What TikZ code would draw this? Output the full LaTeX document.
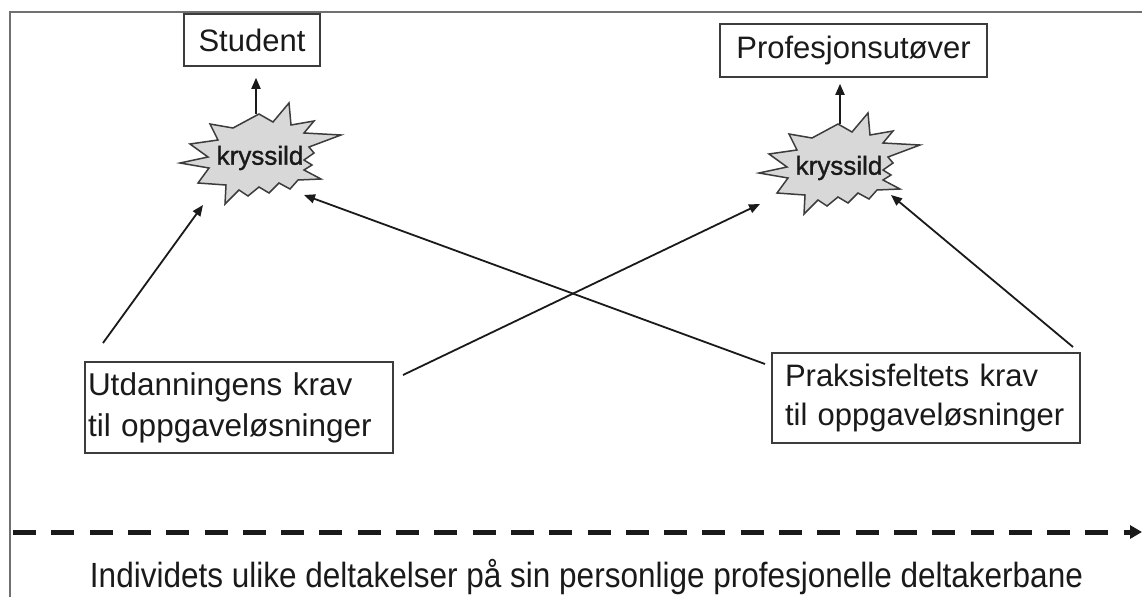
\documentclass[tikz,border=0pt]{standalone}
\usepackage{fontspec}
\usepackage{graphicx}
\setmainfont{Liberation Sans}
\newfontface\kryface[FakeBold=1.2]{Liberation Sans}
\usetikzlibrary{arrows.meta,calc}
\definecolor{boxc}{HTML}{3C3C3C}
\definecolor{arrc}{HTML}{1A1A1A}
\definecolor{framec}{HTML}{707070}
\definecolor{burstfill}{HTML}{D8D8D8}
\definecolor{txtc}{HTML}{1A1A1A}
\newcommand\fsStud{\fontsize{31}{37}\selectfont}
\newcommand\fsKry{\kryface\fontsize{26}{30}\selectfont}
\newcommand\fsBoxL{\fontsize{31.5}{41}\selectfont}
\newcommand\fsBoxR{\fontsize{31}{39}\selectfont}
\newcommand\fsBot{\fontsize{35}{40}\selectfont}
\begin{document}
\begin{tikzpicture}[x=1pt,y=-1pt,
  box/.style={draw=boxc,line width=1.6pt,inner sep=0pt,text=txtc},
  arr/.style={draw=arrc,line width=1.8pt,-{Triangle[length=11pt,width=9pt]}},
  burst/.style={fill=burstfill,draw=boxc,line width=1.5pt,line join=miter,miter limit=10},
  lbl/.style={inner sep=0pt,text=txtc},
  burstpic/.pic={\draw[burst] (-50,-34) -- (-27,-30) -- (-1,-44) -- (13,-36) -- (29,-55) -- (31,-33) -- (54,-37) -- (44,-25) -- (81,-23) -- (49,-11) -- (54,-5) -- (44,2) -- (52,7) -- (44,12) -- (61,21) -- (38,22) -- (30,31) -- (19,25) -- (9,35) -- (-1,29) -- (-12,38) -- (-21,32) -- (-35,46) -- (-34,27) -- (-62,25) -- (-51,10) -- (-80,5) -- (-52,-1) -- (-70,-14) -- (-42,-18) -- cycle;}]
\useasboundingbox (0,0) rectangle (1142,597);
\fill[white] (0,0) rectangle (1142,597);
\draw[framec,line width=2.5pt] (1142,12) -- (10,12) -- (10,597);

% top boxes
\node[box,minimum width=136pt,minimum height=52pt,font=\fsStud] (stud) at (252,40) {Student};
\node[box,minimum width=267pt,minimum height=53pt,font=\fsStud] (prof) at (853.5,50.5) {Profesjonsutøver};

% starbursts
\pic at (260,158) {burstpic};
\pic at (839,168) {burstpic};
\node[lbl,font=\fsKry] (kL) at (260,158) {kryssild};
\node[lbl,font=\fsKry] (kR) at (839,168) {kryssild};

% lower boxes
\node[box,minimum width=308pt,minimum height=91pt,text width=302pt,inner xsep=3pt,align=left,font=\fsBoxL] (ul) at (239,407.5) {Utdanningens krav\\til oppgaveløsninger};
\node[box,minimum width=308pt,minimum height=90pt,text width=282pt,inner xsep=13pt,align=left,font=\fsBoxR] (pk) at (926,398) {Praksisfeltets krav\\til oppgaveløsninger};

% vertical arrows
\coordinate (kLt) at ($(kL)+(-4,-44)$);
\coordinate (kRt) at ($(kR)+(1,-44)$);
\draw[arr,shorten >=11pt] (kLt) -- (kLt |- stud.south);
\draw[arr,shorten >=6pt] (kRt) -- (kRt |- prof.south);

% diagonal arrows
\coordinate (a1s) at (103,343); \coordinate (a1e) at (203,205);
\coordinate (a2s) at (403,375); \coordinate (a2e) at (760,204);
\coordinate (a3s) at (765,364); \coordinate (a3e) at (304,195);
\coordinate (a4s) at (1073,347); \coordinate (a4e) at (891,195);
\draw[arr] (a1s) -- (a1e);
\draw[arr] (a2s) -- (a2e);
\draw[arr] (a3s) -- (a3e);
\draw[arr] (a4s) -- (a4e);

% dashed timeline
\coordinate (d0) at (13,532);
\coordinate (d1) at (1142,532);
\draw[arrc,line width=5pt,dash pattern=on 23pt off 15.3pt,-{Triangle[length=12pt,width=13pt]}] (d0) -- (d1);

\node[lbl,anchor=base,font=\fsBot] (bot) at (586.5,587) {\resizebox{993pt}{\height}{Individets ulike deltakelser på sin personlige profesjonelle deltakerbane}};
\end{tikzpicture}
\end{document}
